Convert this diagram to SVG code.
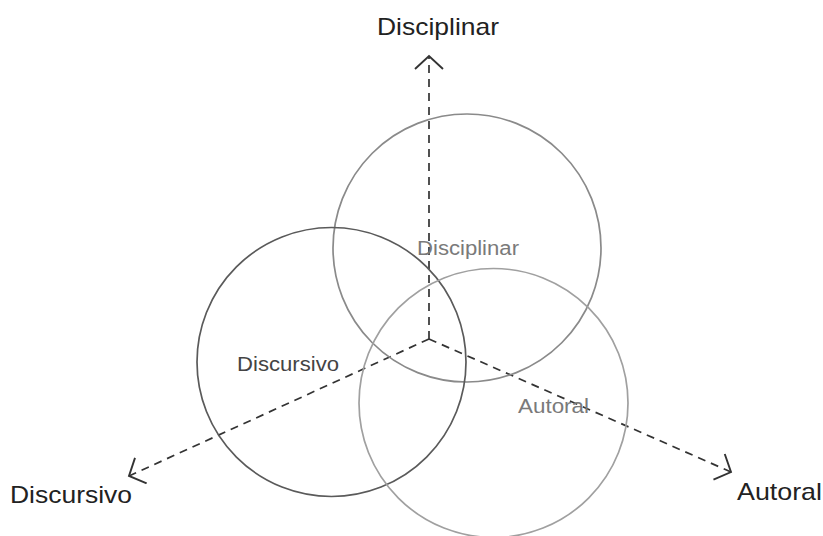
<svg xmlns="http://www.w3.org/2000/svg" width="823" height="536" viewBox="0 0 823 536">
  <style>
    .axis { fill: none; stroke: #333; stroke-width: 1.7; stroke-dasharray: 8 6; }
    .circ { fill: none; stroke-width: 1.7; }
    .lbl { font-family: "Liberation Sans", Arial, sans-serif; }
    .outer { font-size: 24px; fill: #222; }
    .inner { font-size: 20px; }
  </style>
  <defs>
    <marker id="arr" viewBox="0 0 16 30" refX="14" refY="15" markerWidth="16" markerHeight="30" markerUnits="userSpaceOnUse" orient="auto">
      <path d="M1,1 L14,15 L1,29" fill="none" stroke="#333" stroke-width="1.9"/>
    </marker>
  </defs>
  <rect width="823" height="536" fill="#fff"/>
  <g id="connectors">
    <line class="axis" x1="429" y1="339" x2="429" y2="56" marker-end="url(#arr)"/>
    <line class="axis" x1="429" y1="339" x2="129" y2="476" marker-end="url(#arr)"/>
    <line class="axis" x1="429" y1="339" x2="731" y2="472" marker-end="url(#arr)"/>
  </g>
  <g id="circle-disciplinar">
    <circle class="circ" cx="467" cy="248" r="134" stroke="#8a8a8a"/>
    <text class="lbl inner" x="417" y="255" textLength="102" lengthAdjust="spacingAndGlyphs" fill="#7a7a7a">Disciplinar</text>
  </g>
  <g id="circle-discursivo">
    <circle class="circ" cx="331.5" cy="362" r="134.5" stroke="#5a5a5a"/>
    <text class="lbl inner" x="237" y="371" textLength="102" lengthAdjust="spacingAndGlyphs" fill="#444">Discursivo</text>
  </g>
  <g id="circle-autoral">
    <circle class="circ" cx="493.5" cy="403" r="134.5" stroke="#a0a0a0"/>
    <text class="lbl inner" x="518" y="413" textLength="71" lengthAdjust="spacingAndGlyphs" fill="#7a7a7a">Autoral</text>
  </g>
  <g id="label-disciplinar">
    <text class="lbl outer" x="377" y="35" textLength="122" lengthAdjust="spacingAndGlyphs">Disciplinar</text>
  </g>
  <g id="label-discursivo">
    <text class="lbl outer" x="10" y="503" textLength="122" lengthAdjust="spacingAndGlyphs">Discursivo</text>
  </g>
  <g id="label-autoral">
    <text class="lbl outer" x="737" y="500" textLength="85" lengthAdjust="spacingAndGlyphs">Autoral</text>
  </g>
</svg>
